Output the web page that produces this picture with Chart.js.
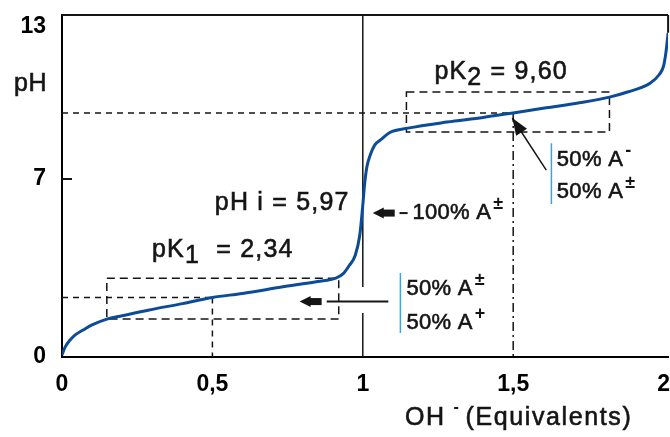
<!DOCTYPE html>
<html>
<head>
<meta charset="utf-8">
<script src="https://cdn.jsdelivr.net/npm/chart.js@4/dist/chart.umd.min.js"></script>
<style>
  html, body { margin: 0; padding: 0; background: #fff; }
  #wrap { width: 670px; height: 437px; }
</style>
</head>
<body>
<div id="wrap"><canvas id="titrationChart"></canvas></div>
<script>
// Titration curve of glycine: pH against equivalents of OH- added.

const equivalents = [0, 0.01, 0.027, 0.045, 0.07, 0.1, 0.149, 0.2, 0.29, 0.4, 0.5, 0.6, 0.73, 0.85, 0.91, 0.935, 0.955, 0.975, 0.99, 1.0, 1.006, 1.014, 1.025, 1.04, 1.06, 1.09, 1.15, 1.28, 1.4, 1.5, 1.61, 1.72, 1.82, 1.88, 1.955, 1.985, 2.0, 2.008, 2.015];
const phValues = [0.08, 0.38, 0.67, 0.88, 1.06, 1.26, 1.49, 1.62, 1.85, 2.1, 2.34, 2.5, 2.75, 2.97, 3.1, 3.28, 3.6, 4.0, 4.8, 5.97, 6.8, 7.5, 7.95, 8.34, 8.55, 8.83, 9.0, 9.24, 9.42, 9.6, 9.8, 10.0, 10.22, 10.42, 10.77, 11.1, 11.45, 12.0, 12.75];

const xTickValues = [0, 0.5, 1, 1.5, 2];
const yTickValues = [0, 7, 13];

const pK1 = 2.34;
const pK2 = 9.60;
const pHi = 5.97;

const FONT = "'Liberation Sans', Arial, sans-serif";
const INK = '#151515';

function text(ctx, str, px, py, size, spacing) {
    ctx.font = size + 'px ' + FONT;
    ctx.letterSpacing = (spacing || 0) + 'px';
    ctx.fillText(str, px, py);
    ctx.lineWidth = 0.6;
    ctx.strokeText(str, px, py);
    return ctx.measureText(str).width;
}

// "50% A" followed by a small raised charge sign
function speciesLabel(ctx, prefix, charge, px, py) {
    const w = text(ctx, prefix, px, py, 22, 0.3);
    ctx.font = 'bold 18px ' + FONT;
    ctx.letterSpacing = '0px';
    ctx.fillText(charge, px + w + 2, py - 9);
}

function arrowHead(ctx, tipX, tipY, angle) {
    ctx.save();
    ctx.translate(tipX, tipY);
    ctx.rotate(angle);
    ctx.beginPath();
    ctx.moveTo(0, 0);
    ctx.lineTo(11, -5.5);
    ctx.lineTo(11, 5.5);
    ctx.closePath();
    ctx.fill();
    ctx.fillRect(10, -3.5, 12, 7);
    ctx.restore();
}

const guides = {
    id: 'guides',
    beforeDatasetsDraw(chart) {
        const { ctx, chartArea: a, scales: { x, y } } = chart;
        const X = v => x.getPixelForValue(v);
        const Y = v => y.getPixelForValue(v);
        ctx.save();
        ctx.strokeStyle = INK;
        ctx.lineWidth = 1.5;

        // pK guide lines
        ctx.setLineDash([6, 5]);
        ctx.beginPath();
        ctx.moveTo(X(0), Y(pK1)); ctx.lineTo(X(0.5), Y(pK1));
        ctx.moveTo(X(0.5), Y(pK1)); ctx.lineTo(X(0.5), Y(0));
        ctx.moveTo(X(0), Y(pK2)); ctx.lineTo(X(1.5), Y(pK2));
        ctx.stroke();

        ctx.setLineDash([9, 4, 2, 4]);
        ctx.beginPath();
        ctx.moveTo(X(1.5), Y(pK2)); ctx.lineTo(X(1.5), Y(0));
        ctx.stroke();

        // buffer zone boxes
        ctx.setLineDash([8, 5]);
        ctx.strokeRect(X(0.149), Y(3.1), X(0.92) - X(0.149), Y(1.49) - Y(3.1));
        ctx.strokeRect(X(1.145), Y(10.42), X(1.82) - X(1.145), Y(8.85) - Y(10.42));

        // equivalence line at x = 1
        ctx.setLineDash([]);
        ctx.beginPath();
        ctx.moveTo(X(1), a.top); ctx.lineTo(X(1), Y(2.75));
        ctx.moveTo(X(1), Y(1.73)); ctx.lineTo(X(1), Y(0));
        ctx.stroke();

        // frame: top edge and the short right edge above the curve
        ctx.lineWidth = 2;
        ctx.beginPath();
        ctx.moveTo(a.left, a.top); ctx.lineTo(a.right, a.top);
        ctx.moveTo(a.right, a.top); ctx.lineTo(a.right, Y(phValues[phValues.length - 1]));
        ctx.stroke();

        // inward tick at 7
        ctx.beginPath();
        ctx.moveTo(a.left, Y(7)); ctx.lineTo(a.left + 10, Y(7));
        ctx.stroke();
        ctx.restore();
    },
    afterDatasetsDraw(chart) {
        const { ctx, chartArea: a, scales: { x, y } } = chart;
        const X = v => x.getPixelForValue(v);
        const Y = v => y.getPixelForValue(v);
        ctx.save();
        ctx.fillStyle = INK;
        ctx.strokeStyle = INK;
        ctx.textBaseline = 'middle';

        // axis titles
        text(ctx, 'pH', a.left - 48, Y(10.75), 25, 0.5);
        let w = text(ctx, 'OH', X(1.14), 418, 25, 1.6);
        ctx.font = 'bold 16px ' + FONT;
        ctx.fillText('-', X(1.14) + w + 8, 408);
        text(ctx, '(Equivalents)', X(1.14) + w + 20, 418, 25, 1.6);

        // pK and pI labels
        w = text(ctx, 'pK', X(1.238), Y(11.2), 25, 1.2);
        text(ctx, '2', X(1.238) + w, Y(11.2) + 6, 25, 1.2);
        text(ctx, ' = 9,60', X(1.238) + w + 15, Y(11.2), 25, 1.2);

        text(ctx, 'pH i = 5,97', X(0.508), Y(6.06), 25, 1.2);

        w = text(ctx, 'pK', X(0.299), Y(4.2), 25, 1.2);
        text(ctx, '1', X(0.299) + w, Y(4.2) + 6, 25, 1.2);
        text(ctx, '  = 2,34', X(0.299) + w + 15, Y(4.2), 25, 1.2);

        // arrow at pK1
        arrowHead(ctx, X(0.79), Y(2.18), 0);
        ctx.lineWidth = 2;
        ctx.beginPath();
        ctx.moveTo(X(0.88), Y(2.18)); ctx.lineTo(X(1.085), Y(2.18));
        ctx.stroke();

        // arrow at pI
        arrowHead(ctx, X(1.033), Y(5.66), 0);
        ctx.beginPath();
        ctx.moveTo(X(1.122), Y(5.66)); ctx.lineTo(X(1.149), Y(5.66));
        ctx.stroke();
        speciesLabel(ctx, '100% A', '±', X(1.165), Y(5.66));

        // arrow at pK2
        const tx = X(1.497), ty = Y(9.4), sx = X(1.61), sy = Y(7.35);
        ctx.lineWidth = 1.5;
        ctx.beginPath();
        ctx.moveTo(sx, sy); ctx.lineTo(tx, ty);
        ctx.stroke();
        ctx.save();
        ctx.translate(tx, ty);
        ctx.rotate(Math.atan2(sy - ty, sx - tx));
        ctx.beginPath();
        ctx.moveTo(0, 0); ctx.lineTo(17, -6.5); ctx.lineTo(17, 6.5);
        ctx.closePath();
        ctx.fill();
        ctx.restore();

        // blue brackets and species labels
        ctx.save();
        ctx.strokeStyle = '#3aa6dc';
        ctx.lineWidth = 1.5;
        ctx.beginPath();
        ctx.moveTo(X(1.125), Y(3.3)); ctx.lineTo(X(1.125), Y(0.94));
        ctx.moveTo(X(1.627), Y(8.41)); ctx.lineTo(X(1.627), Y(6.02));
        ctx.stroke();
        ctx.restore();

        speciesLabel(ctx, '50% A', '±', X(1.145), Y(2.67));
        speciesLabel(ctx, '50% A', '+', X(1.145), Y(1.34));
        speciesLabel(ctx, '50% A', '-', X(1.645), Y(7.75));
        speciesLabel(ctx, '50% A', '±', X(1.645), Y(6.5));
        ctx.restore();
    }
};

const tickFont = { family: FONT, size: 23, weight: 'bold' };

new Chart(document.getElementById('titrationChart').getContext('2d'), {
    type: 'line',
    data: {
        datasets: [{
            data: equivalents.map((v, i) => ({ x: v, y: phValues[i] })),
            borderColor: '#0c4b98',
            borderWidth: 3,
            pointRadius: 0,
            cubicInterpolationMode: 'monotone',
            fill: false
        }]
    },
    options: {
        responsive: true,
        maintainAspectRatio: false,
        animation: false,
        devicePixelRatio: 1,
        layout: { padding: { top: 15, right: 1, left: 0, bottom: 0 } },
        scales: {
            x: {
                type: 'linear',
                min: 0,
                max: 2.015,
                afterBuildTicks: s => { s.ticks = xTickValues.map(v => ({ value: v })); },
                afterFit: s => { s.height = 80; },
                ticks: {
                    padding: 0,
                    autoSkip: false,
                    maxRotation: 0,
                    color: '#000',
                    font: tickFont,
                    callback: v => String(v).replace('.', ',')
                },
                grid: { drawOnChartArea: false, drawTicks: true, tickLength: 14, tickColor: 'rgba(0,0,0,0)' },
                border: { color: '#000', width: 2 }
            },
            y: {
                min: 0,
                max: 13.45,
                afterBuildTicks: s => { s.ticks = yTickValues.map(v => ({ value: v })); },
                afterFit: s => { s.width = 62; },
                ticks: { padding: 0, color: '#000', font: tickFont },
                grid: { drawOnChartArea: false, drawTicks: true, tickLength: 16, tickColor: 'rgba(0,0,0,0)' },
                border: { color: '#000', width: 2 }
            }
        },
        plugins: {
            legend: { display: false },
            tooltip: { enabled: false }
        }
    },
    plugins: [guides]
});
</script>
</body>
</html>
